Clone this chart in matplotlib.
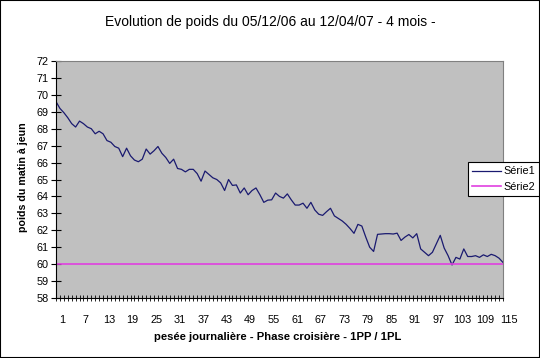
import numpy as np
import matplotlib
matplotlib.use("Agg")
import matplotlib.pyplot as plt
import matplotlib.transforms as mtransforms
from matplotlib.patches import Rectangle

plt.rcParams['font.family'] = ['Liberation Sans', 'DejaVu Sans']

# poids du matin (kg), one value per daily weighing
serie1 = [69.6, 69.2, 68.95, 68.65, 68.3, 68.1, 68.45, 68.3, 68.1, 68.0,
          67.7, 67.85, 67.7, 67.3, 67.2, 66.95, 66.85, 66.35, 66.85, 66.4,
          66.15, 66.05, 66.2, 66.8, 66.5, 66.7, 66.95, 66.55, 66.3, 65.95,
          66.2, 65.65, 65.6, 65.45, 65.6, 65.6, 65.35, 64.9, 65.5, 65.3,
          65.1, 65.0, 64.8, 64.35, 65.0, 64.65, 64.68, 64.2, 64.5, 64.1,
          64.35, 64.5, 64.1, 63.65, 63.78, 63.8, 64.2, 64.0, 63.9, 64.15,
          63.8, 63.49, 63.49, 63.6, 63.3, 63.65, 63.2, 62.95, 62.88, 63.1,
          63.3, 62.85, 62.7, 62.55, 62.35, 62.1, 61.82, 62.35, 62.25, 61.6,
          61.0, 60.75, 61.76, 61.78, 61.8, 61.8, 61.78, 61.83, 61.4, 61.6,
          61.75, 61.55, 61.8, 60.9, 60.7, 60.5, 60.7, 61.2, 61.7, 60.95,
          60.5, 59.95, 60.4, 60.3, 60.9, 60.45, 60.45, 60.5, 60.4, 60.55,
          60.45, 60.58, 60.5, 60.35, 60.1]
serie2 = [60] * len(serie1)
days = list(range(1, len(serie1) + 1))
xlabels = list(range(1, 116, 6))
ylabels = list(range(58, 73))

fig = plt.figure(figsize=(5.4, 3.58), dpi=100)
fig.patch.set_facecolor('white')
fig.patches.append(Rectangle((0, 0), 1, 1, transform=fig.transFigure,
                             fill=False, edgecolor='black', linewidth=1.5))

ax = fig.add_axes([56/540, 1 - 298/358, (503 - 56)/540, (298 - 61)/358])
ax.set_facecolor('#c0c0c0')
for s in ax.spines.values():
    s.set_color('#808080')
    s.set_linewidth(0.8)
ax.spines['left'].set_color('black')
ax.spines['bottom'].set_color('black')

ax.plot(days, serie1, color='#1a1a70', linewidth=0.9, label='Série1')
ax.plot(days, serie2, color='#e040e0', linewidth=1.2, label='Série2')

ax.set_xlim(1, 115)
ax.set_ylim(58, 72)
ax.set_yticks(ylabels)
ax.set_yticklabels([str(v) for v in ylabels], fontsize=7.8)
ax.set_xticks(xlabels)
ax.set_xticklabels([str(v) for v in xlabels], fontsize=7.8)
ax.set_xticks(range(1, 116), minor=True)
ax.tick_params(axis='y', direction='inout', length=7, width=0.8, pad=2)
ax.tick_params(axis='x', which='both', direction='inout', length=5, width=0.6, pad=10)

offset = mtransforms.ScaledTranslation(6/100, 0, fig.dpi_scale_trans)
for lbl in ax.get_xticklabels():
    lbl.set_transform(lbl.get_transform() + offset)

fig.text(0.5, 1 - 22/358, 'Evolution de poids du 05/12/06 au 12/04/07 - 4 mois -',
         ha='center', va='center', fontsize=10)
fig.text(278/540, 1 - 337/358, 'pesée journalière - Phase croisière - 1PP / 1PL',
         ha='center', va='center', fontsize=8.1, fontweight='bold')
fig.text(23/540, 1 - 177/358, 'poids du matin à jeun', rotation=90,
         ha='center', va='center', fontsize=7.7, fontweight='bold')

leg = ax.legend(loc='upper left', bbox_to_anchor=(468/540, 1 - 162/358),
                bbox_transform=fig.transFigure, fontsize=7.8, frameon=True,
                fancybox=False, borderpad=0.4, handlelength=2.6,
                handletextpad=0.3, labelspacing=0.5, borderaxespad=0)
leg.get_frame().set_edgecolor('black')
leg.get_frame().set_linewidth(0.8)
leg.get_frame().set_facecolor('white')
leg.get_frame().set_alpha(1)

fig.savefig('out.png', dpi=100)
